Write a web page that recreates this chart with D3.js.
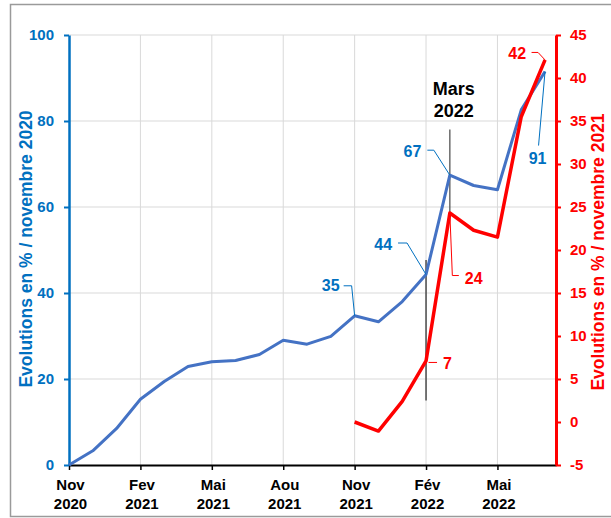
<!DOCTYPE html>
<html>
<head>
<meta charset="utf-8">
<script src="https://cdn.jsdelivr.net/npm/d3@7"></script>
<style>
  body { margin: 0; background: #fff; }
  svg { display: block; font-family: "Liberation Sans", Arial, sans-serif; }
</style>
</head>
<body>
<div class="chart"></div>
<script>

const FRAME_WIDTH = 611;
const FRAME_HEIGHT = 518;
const MARGINS = {left: 69, right: 55, top: 35, bottom: 53};

// months from Nov 2020 to Jul 2022
const MONTHS = ["2020-11", "2020-12", "2021-01", "2021-02", "2021-03", "2021-04", "2021-05",
                "2021-06", "2021-07", "2021-08", "2021-09", "2021-10", "2021-11", "2021-12",
                "2022-01", "2022-02", "2022-03", "2022-04", "2022-05", "2022-06", "2022-07"];

// evolution vs nov 2020 (left axis)
const BLUE_VALUES = [0, 3.3, 8.5, 15.3, 19.4, 22.9, 24.0, 24.3, 25.7, 29.0, 28.1, 29.9,
                     34.7, 33.3, 38.0, 44.3, 67.4, 65.0, 64.0, 82.6, 91.5];

// evolution vs nov 2021 (right axis)
const RED_VALUES = [null, null, null, null, null, null, null, null, null, null, null, null,
                    0, -1.05, 2.4, 7.1, 24.3, 22.3, 21.5, 35.5, 42.1];

const X_TICK_INDEX = [0, 3, 6, 9, 12, 15, 18];
const X_TICK_MONTH = ["Nov", "Fev", "Mai", "Aou", "Nov", "Fév", "Mai"];
const X_TICK_YEAR = ["2020", "2021", "2021", "2021", "2021", "2022", "2022"];

const LEFT_TICKS = [0, 20, 40, 60, 80, 100];
const RIGHT_TICKS = [-5, 0, 5, 10, 15, 20, 25, 30, 35, 40, 45];

const BLUE_LABEL_INDEX = [12, 15, 16, 20];
const BLUE_LABEL_TEXT = ["35", "44", "67", "91"];
const RED_LABEL_INDEX = [15, 16, 20];
const RED_LABEL_TEXT = ["7", "24", "42"];

const BLUE = "#0070C0";
const LINE_BLUE = "#4472C4";
const RED = "#FF0000";
const GRID = "#d9d9d9";

// leader lines / label placement (pixels relative to the point)
const BLUE_LEADERS = [
  {path: [[0, 0], [-3, -30], [-11, -30]], tx: -15, ty: -30, anchor: "end"},
  {path: [[0, 0], [-19, -31.5], [-28, -31.5]], tx: -34, ty: -30, anchor: "end"},
  {path: [[0, 0], [-16, -25], [-22.5, -25]], tx: -28.5, ty: -24, anchor: "end"},
  {path: [[0, 0], [-6.5, 74]], tx: -7.5, ty: 87, anchor: "middle"}
];
const RED_LEADERS = [
  {path: [[2.5, 1.5], [11, 1.5]], tx: 17, ty: 3, anchor: "start"},
  {path: [[0, 0], [2.5, 62.5], [9, 62.5]], tx: 15, ty: 65, anchor: "start"},
  {path: [[0, 0], [-7, -7.5], [-13.5, -7.5]], tx: -19, ty: -6.5, anchor: "end"}
];

const PLOT_W = FRAME_WIDTH - MARGINS.left - MARGINS.right;
const PLOT_H = FRAME_HEIGHT - MARGINS.top - MARGINS.bottom;

const svg = d3.select(".chart")
              .append("svg")
              .attr("width", FRAME_WIDTH)
              .attr("height", FRAME_HEIGHT);

svg.append("rect")
   .attr("width", FRAME_WIDTH).attr("height", FRAME_HEIGHT)
   .attr("fill", "#fff");

// outer frame
svg.append("rect")
   .attr("x", 10.5).attr("y", 4.5)
   .attr("width", 620).attr("height", 512)
   .attr("fill", "none")
   .attr("stroke", "#9a9a9a")
   .attr("stroke-width", 1.5);

const X_SCALE = d3.scaleLinear().domain([0, 20.46]).range([MARGINS.left, MARGINS.left + PLOT_W]);
const Y_LEFT = d3.scaleLinear().domain([0, 100]).range([MARGINS.top + PLOT_H, MARGINS.top]);
const Y_RIGHT = d3.scaleLinear().domain([-5, 45]).range([MARGINS.top + PLOT_H, MARGINS.top]);

// gridlines
svg.append("g")
   .selectAll("line")
   .data(LEFT_TICKS.slice(1))
   .enter().append("line")
     .attr("x1", MARGINS.left).attr("x2", MARGINS.left + PLOT_W)
     .attr("y1", (d) => Y_LEFT(d)).attr("y2", (d) => Y_LEFT(d))
     .attr("stroke", GRID).attr("stroke-width", 1);

svg.append("g")
   .selectAll("line")
   .data(X_TICK_INDEX.slice(1))
   .enter().append("line")
     .attr("x1", (d) => X_SCALE(d)).attr("x2", (d) => X_SCALE(d))
     .attr("y1", MARGINS.top).attr("y2", MARGINS.top + PLOT_H)
     .attr("stroke", GRID).attr("stroke-width", 1);

// bottom axis
const xAxis = svg.append("g")
   .attr("transform", "translate(0," + (MARGINS.top + PLOT_H) + ")")
   .call(d3.axisBottom(X_SCALE).tickValues(X_TICK_INDEX).tickSize(5).tickSizeOuter(0).tickFormat(""));
xAxis.select(".domain").attr("stroke", "#000").attr("stroke-width", 2);
xAxis.selectAll(".tick line").attr("stroke", "#000").attr("stroke-width", 1.5);
xAxis.selectAll(".tick").each(function(d, i) {
  const t = d3.select(this).append("text")
     .attr("fill", "#000")
     .attr("font-size", "15px")
     .attr("font-weight", "bold")
     .attr("text-anchor", "middle");
  t.append("tspan").attr("x", 1).attr("y", 25).text(X_TICK_MONTH[i]);
  t.append("tspan").attr("x", 1).attr("y", 43.5).text(X_TICK_YEAR[i]);
});

// left axis
const leftAxis = svg.append("g")
   .attr("transform", "translate(" + MARGINS.left + ",0)")
   .call(d3.axisLeft(Y_LEFT).tickValues(LEFT_TICKS).tickSize(5).tickSizeOuter(0).tickPadding(10)
           .tickFormat((d) => String(d)));
leftAxis.select(".domain").attr("stroke", BLUE).attr("stroke-width", 2.5);
leftAxis.selectAll(".tick line").attr("stroke", BLUE).attr("stroke-width", 2);
leftAxis.selectAll(".tick text")
   .attr("fill", BLUE).attr("font-size", "15px").attr("font-weight", "bold")
   .attr("font-family", "Liberation Sans, Arial, sans-serif");

// right axis
const rightAxis = svg.append("g")
   .attr("transform", "translate(" + (MARGINS.left + PLOT_W) + ",0)")
   .call(d3.axisRight(Y_RIGHT).tickValues(RIGHT_TICKS).tickSize(5).tickSizeOuter(0).tickPadding(9)
           .tickFormat((d) => String(d)));
rightAxis.select(".domain").attr("stroke", RED).attr("stroke-width", 3);
rightAxis.selectAll(".tick line").attr("stroke", RED).attr("stroke-width", 2);
rightAxis.selectAll(".tick text")
   .attr("fill", RED).attr("font-size", "15px").attr("font-weight", "bold")
   .attr("font-family", "Liberation Sans, Arial, sans-serif");

// axis titles
svg.append("text")
   .attr("transform", "translate(26," + 249 + ") rotate(-90)")
   .attr("text-anchor", "middle").attr("dominant-baseline", "central")
   .attr("fill", BLUE).attr("font-size", "17.5px").attr("font-weight", "bold")
   .text("Evolutions en % / novembre 2020");

svg.append("text")
   .attr("transform", "translate(598," + 252 + ") rotate(-90)")
   .attr("text-anchor", "middle").attr("dominant-baseline", "central")
   .attr("fill", RED).attr("font-size", "17.5px").attr("font-weight", "bold")
   .text("Evolutions en % / novembre 2021");

// reference lines (Fév 2022 and Mars 2022)
svg.append("line")
   .attr("x1", X_SCALE(15)).attr("x2", X_SCALE(15))
   .attr("y1", Y_LEFT(47.7)).attr("y2", Y_LEFT(15))
   .attr("stroke", "#333").attr("stroke-width", 1.3);
svg.append("line")
   .attr("x1", X_SCALE(16)).attr("x2", X_SCALE(16))
   .attr("y1", Y_LEFT(78)).attr("y2", Y_LEFT(58))
   .attr("stroke", "#555").attr("stroke-width", 1.3);

const marsText = svg.append("text")
   .attr("text-anchor", "middle")
   .attr("fill", "#000").attr("font-size", "18px").attr("font-weight", "bold");
marsText.append("tspan").attr("x", X_SCALE(16) + 4).attr("y", 95).text("Mars");
marsText.append("tspan").attr("x", X_SCALE(16) + 4).attr("y", 117).text("2022");

// series lines
const blueLine = d3.line()
   .x((d, i) => X_SCALE(i))
   .y((d) => Y_LEFT(d));
svg.append("path")
   .datum(BLUE_VALUES)
   .attr("d", blueLine)
   .attr("fill", "none").attr("stroke", LINE_BLUE)
   .attr("stroke-width", 3).attr("stroke-linejoin", "round");

const redLine = d3.line()
   .defined((d) => d !== null)
   .x((d, i) => X_SCALE(i))
   .y((d) => Y_RIGHT(d));
svg.append("path")
   .datum(RED_VALUES)
   .attr("d", redLine)
   .attr("fill", "none").attr("stroke", RED)
   .attr("stroke-width", 3.5).attr("stroke-linejoin", "round");

// data labels with leader lines
function addLabels(indexes, texts, leaders, values, yScale, color) {
  indexes.forEach((idx, k) => {
    const px = X_SCALE(idx);
    const py = yScale(values[idx]);
    const L = leaders[k];
    svg.append("path")
       .attr("d", d3.line()(L.path.map((p) => [px + p[0], py + p[1]])))
       .attr("fill", "none").attr("stroke", color).attr("stroke-width", 1);
    svg.append("text")
       .attr("x", px + L.tx).attr("y", py + L.ty)
       .attr("text-anchor", L.anchor).attr("dominant-baseline", "central")
       .attr("fill", color).attr("font-size", "16px").attr("font-weight", "bold")
       .text(texts[k]);
  });
}

addLabels(BLUE_LABEL_INDEX, BLUE_LABEL_TEXT, BLUE_LEADERS, BLUE_VALUES, Y_LEFT, BLUE);
addLabels(RED_LABEL_INDEX, RED_LABEL_TEXT, RED_LEADERS, RED_VALUES, Y_RIGHT, RED);

</script>
</body>
</html>
